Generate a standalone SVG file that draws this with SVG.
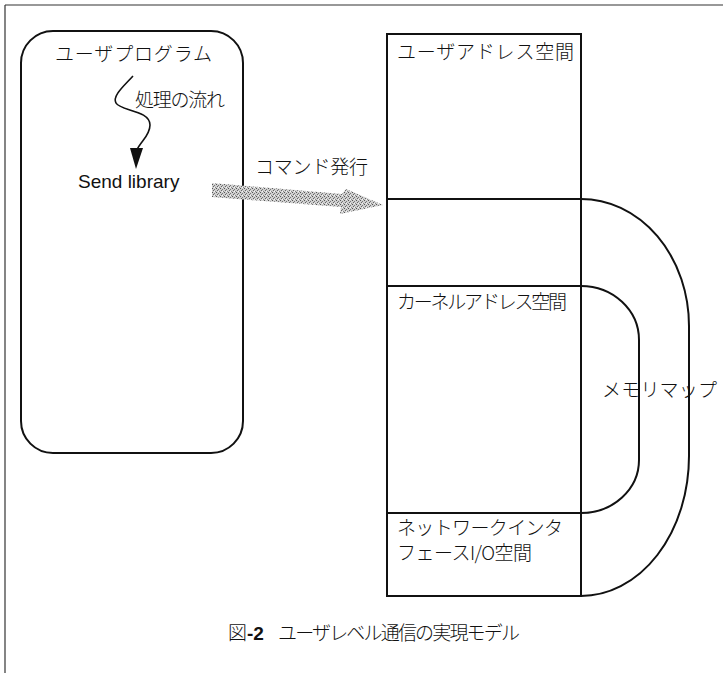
<svg xmlns="http://www.w3.org/2000/svg" width="723" height="673" viewBox="0 0 723 673">
  <style>
    .box { fill: none; stroke: #111; stroke-width: 2; }
    .frame { fill: none; stroke: #333; stroke-width: 1.2; }
    .jp { font-family: "Noto Sans CJK JP", "Noto Sans", sans-serif; font-size: 19px; font-weight: 300; fill: #111; }
    .lat { font-family: "Liberation Sans", Arial, sans-serif; font-size: 19px; fill: #111; }
  </style>
  <defs>
    <pattern id="stipple" width="4" height="4" patternUnits="userSpaceOnUse">
      <rect width="4" height="4" fill="#cfcfcf"/>
      <rect x="0" y="0" width="1" height="1" fill="#555"/>
      <rect x="2" y="1" width="1" height="1" fill="#777"/>
      <rect x="1" y="2" width="1" height="1" fill="#666"/>
      <rect x="3" y="3" width="1" height="1" fill="#888"/>
      <rect x="2" y="3" width="1" height="1" fill="#f4f4f4"/>
    </pattern>
  </defs>
  <rect width="723" height="673" fill="#fff"/>

  <g id="frame">
    <line class="frame" x1="5" y1="5" x2="723" y2="5"/>
    <line class="frame" x1="5" y1="5" x2="5" y2="673"/>
  </g>

  <g id="user-program">
    <rect class="box" x="21" y="31" width="222" height="422" rx="32" ry="32"/>
    <text class="jp" x="55" y="61" textLength="157">ユーザプログラム</text>
    <text class="jp" x="135" y="107" textLength="90">処理の流れ</text>
    <text class="lat" x="78" y="188">Send library</text>
  </g>

  <g id="user-address-space">
    <rect class="box" x="387" y="34" width="194" height="252"/>
    <line class="box" x1="387" y1="199" x2="581" y2="199"/>
    <text class="jp" x="397" y="59" textLength="177">ユーザアドレス空間</text>
  </g>

  <g id="kernel-address-space">
    <rect class="box" x="387" y="286" width="194" height="227"/>
    <text class="jp" x="397" y="309" textLength="170">カーネルアドレス空間</text>
  </g>

  <g id="nic-io-space">
    <rect class="box" x="387" y="513" width="194" height="83"/>
    <text class="jp" x="397" y="535" textLength="166">ネットワークインタ</text>
    <text class="jp" x="397" y="560" textLength="135">フェースI/O空間</text>
  </g>

  <g id="memory-map">
    <path class="box" d="M581,199 A108,127 0 0 1 689,326 L689,456 A108,140 0 0 1 581,596"/>
    <path class="box" d="M581,286 A58,54 0 0 1 639,340 L639,460 A58,53 0 0 1 581,513"/>
    <text class="jp" x="602" y="397" textLength="115">メモリマップ</text>
  </g>

  <g id="connectors">
    <path d="M133,76 C124,86 112,96 116,103 C120,111 150,110 150,125 C150,136 140,142 137,150" fill="none" stroke="#111" stroke-width="1.6"/>
    <polygon points="130,148 143,148 136,169" fill="#111"/>
    <polygon points="212,183 342,194 346,189 383,205 340,214 341,207 212,197" fill="url(#stipple)"/>
    <text class="jp" x="255" y="174" textLength="113">コマンド発行</text>
  </g>

  <g id="caption">
    <text class="jp" x="228" y="640"><tspan>図</tspan><tspan font-family="Liberation Sans, Arial, sans-serif" font-weight="bold">-2</tspan></text>
    <text class="jp" x="278" y="640" textLength="242">ユーザレベル通信の実現モデル</text>
  </g>
</svg>
